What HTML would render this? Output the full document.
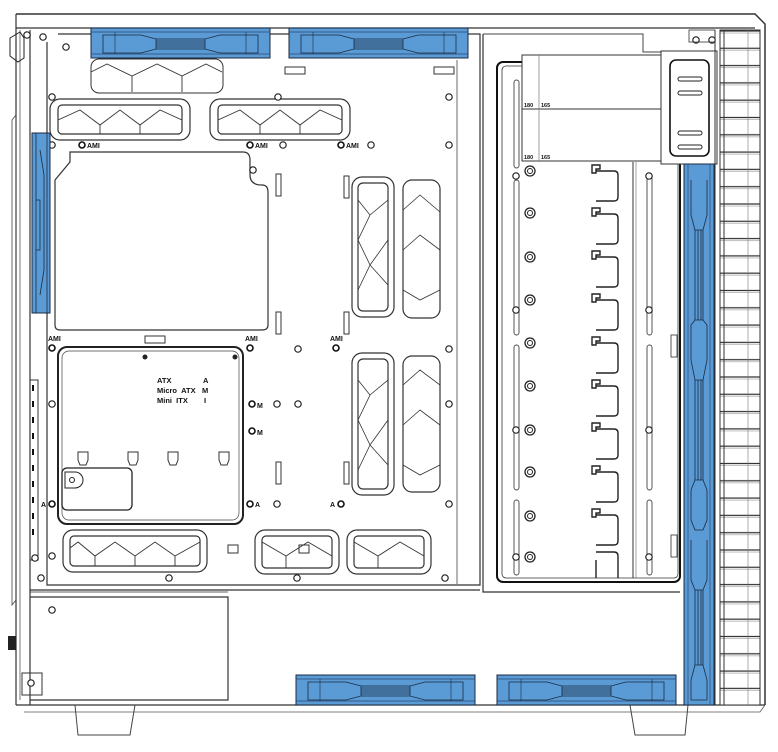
<!DOCTYPE html>
<html><head><meta charset="utf-8"><style>
html,body{margin:0;padding:0;background:#fff;}
svg{display:block;}
text{font-family:"Liberation Sans",sans-serif;font-weight:bold;fill:#111;}
</style></head><body>
<svg width="778" height="752" viewBox="0 0 778 752" xmlns="http://www.w3.org/2000/svg">
<defs>
<pattern id="slat" x="0" y="30" width="40" height="17.3" patternUnits="userSpaceOnUse">
<rect width="40" height="17.3" fill="#fff"/><line x1="0" y1="1" x2="40" y2="1" stroke="#333" stroke-width="1.2"/><line x1="0" y1="3" x2="40" y2="3" stroke="#999" stroke-width="0.6"/>
</pattern>
<g id="hfan">
<rect x="0" y="0" width="179" height="30" fill="#5b9bd5" stroke="#1a2a40" stroke-width="1"/>
<line x1="0" y1="4" x2="179" y2="4" stroke="#2a4a70" stroke-width="0.7"/>
<line x1="0" y1="26" x2="179" y2="26" stroke="#2a4a70" stroke-width="0.7"/>
<path d="M12 7 L50 7 L65 11 L65 21 L50 25 L12 25 Z" fill="#5b9bd5" stroke="#1a2a40" stroke-width="0.8"/>
<path d="M167 7 L129 7 L114 11 L114 21 L129 25 L167 25 Z" fill="#5b9bd5" stroke="#1a2a40" stroke-width="0.8"/>
<path d="M65 11 L114 11 M65 13 L114 13 M65 15 L114 15 M65 17 L114 17 M65 19 L114 19 M65 21 L114 21" stroke="#1a2a40" stroke-width="0.8"/>
<line x1="24" y1="4" x2="24" y2="26" stroke="#1a2a40" stroke-width="0.6"/>
<line x1="155" y1="4" x2="155" y2="26" stroke="#1a2a40" stroke-width="0.6"/>
</g>
<g id="scr"><circle r="3.2" fill="#fff" stroke="#222" stroke-width="1.2"/></g>
<g id="dscr"><circle r="5" fill="#fff" stroke="#222" stroke-width="1.3"/><circle r="2.5" fill="#fff" stroke="#222" stroke-width="1"/></g>
<g id="tray"><path d="M592 0 h8 v4 h-4 v4 h-4 z M596 6 h18 q4 0 4 4 v22 q0 4 -4 4 h-18" fill="none" stroke="#222" stroke-width="1.4"/></g>
</defs>

<!-- outer frame -->
<path d="M16 14 L755 14 L765 24 L765 705" fill="none" stroke="#333" stroke-width="1.5"/>
<line x1="16" y1="28" x2="755" y2="28" stroke="#333" stroke-width="1.2"/>
<line x1="16" y1="14" x2="16" y2="705" stroke="#333" stroke-width="1.2"/>
<line x1="20" y1="30" x2="20" y2="700" stroke="#555" stroke-width="0.8"/>
<line x1="30" y1="30" x2="30" y2="705" stroke="#333" stroke-width="1.2"/>
<line x1="16" y1="705" x2="765" y2="705" stroke="#333" stroke-width="1.2"/>
<path d="M24 712 L760 712 L765 705" fill="none" stroke="#555" stroke-width="0.8"/>
<!-- feet -->
<path d="M75 705 L78 735 L130 735 L135 705" fill="none" stroke="#444" stroke-width="1"/>
<path d="M630 705 L635 735 L685 735 L688 705" fill="none" stroke="#444" stroke-width="1"/>

<!-- left mechanics -->
<path d="M10 38 L20 32 L24 38 L24 58 L18 62 L10 56 Z" fill="none" stroke="#222" stroke-width="1"/>
<use href="#scr" x="27" y="35"/><use href="#scr" x="43" y="37"/>
<path d="M12 120 L16 115 L16 600 L12 605 Z" fill="none" stroke="#444" stroke-width="0.8"/>
<rect x="8" y="636" width="8" height="14" fill="#222"/>
<rect x="30" y="380" width="8" height="180" fill="none" stroke="#333" stroke-width="1"/>
<path d="M33 385 v160" stroke="#111" stroke-width="2" stroke-dasharray="6 10"/>

<!-- main tray -->
<path d="M47 42 L47 585 L480 585 L480 34 L58 34" fill="none" stroke="#333" stroke-width="1.2"/>
<line x1="457" y1="60" x2="457" y2="584" stroke="#444" stroke-width="0.8"/>
<line x1="30" y1="590" x2="480" y2="590" stroke="#333" stroke-width="1.2"/>

<!-- top vent -->
<rect x="91" y="59" width="132" height="34" rx="8" fill="none" stroke="#333" stroke-width="1"/>
<path d="M91 72 L107 64 L132 76 L157 64 L182 76 L206 64 L222 72 M132 76 L132 92 M182 76 L182 92" fill="none" stroke="#333" stroke-width="0.9"/>
<!-- vents row -->
<rect x="50" y="99" width="140" height="41" rx="10" fill="none" stroke="#333" stroke-width="1.2"/>
<rect x="58" y="105" width="124" height="29" rx="4" fill="none" stroke="#333" stroke-width="1.2"/>
<path d="M58 120 L80 110 L100 125 L120 110 L140 125 L160 110 L182 120 M100 125 v9 M140 125 v9" fill="none" stroke="#333" stroke-width="0.9"/>
<rect x="210" y="99" width="140" height="41" rx="10" fill="none" stroke="#333" stroke-width="1.2"/>
<rect x="218" y="105" width="124" height="29" rx="4" fill="none" stroke="#333" stroke-width="1.2"/>
<path d="M218 120 L240 110 L260 125 L280 110 L300 125 L320 110 L342 120 M260 125 v9 M300 125 v9" fill="none" stroke="#333" stroke-width="0.9"/>

<!-- vertical vents -->
<g fill="none" stroke="#333" stroke-width="1.2">
<rect x="352" y="177" width="42" height="140" rx="10"/><rect x="358" y="183" width="30" height="128" rx="5"/>
<rect x="403" y="180" width="37" height="138" rx="9"/>
<rect x="352" y="353" width="42" height="142" rx="10"/><rect x="358" y="359" width="30" height="130" rx="5"/>
<rect x="403" y="356" width="37" height="136" rx="9"/>
</g>
<path d="M358 200 L370 215 L358 240 L370 265 L358 290 M388 200 L370 215 M388 240 L370 265 M388 285 L370 265 M403 210 L420 195 L440 212 M403 250 L420 235 L440 250 M403 290 L420 300 L440 290" fill="none" stroke="#333" stroke-width="0.8"/>
<path d="M358 380 L370 395 L358 420 L370 445 L358 470 M388 380 L370 395 M388 420 L370 445 M388 465 L370 445 M403 385 L420 370 L440 385 M403 425 L420 410 L440 425 M403 465 L420 475 L440 465" fill="none" stroke="#333" stroke-width="0.8"/>

<!-- small slots -->
<g fill="none" stroke="#333" stroke-width="1">
<rect x="276" y="174" width="5" height="22"/><rect x="276" y="312" width="5" height="22"/>
<rect x="344" y="176" width="5" height="22"/><rect x="344" y="312" width="5" height="22"/>
<rect x="276" y="462" width="5" height="22"/><rect x="344" y="462" width="5" height="22"/>
<rect x="285" y="67" width="20" height="7"/><rect x="434" y="67" width="20" height="7"/>
<rect x="145" y="336" width="20" height="7"/>
<rect x="228" y="545" width="10" height="8"/><rect x="299" y="545" width="10" height="8"/>
</g>

<!-- mb cutout upper -->
<path d="M55 180 L70 162 L70 152 L243 152 Q250 152 250 160 L250 175 Q250 185 262 185 Q268 185 268 192 L268 325 Q268 330 262 330 L60 330 Q55 330 55 325 Z" fill="none" stroke="#333" stroke-width="1.2"/>
<!-- mb cutout lower -->
<rect x="58" y="347" width="185" height="177" rx="9" fill="none" stroke="#222" stroke-width="2"/>
<rect x="62" y="351" width="177" height="169" rx="7" fill="none" stroke="#444" stroke-width="0.7"/>
<rect x="62" y="468" width="70" height="42" rx="5" fill="none" stroke="#222" stroke-width="1.3"/>
<path d="M65 472 h10 a8 8 0 0 1 0 16 h-10 z" fill="none" stroke="#222" stroke-width="1"/><circle cx="72" cy="480" r="2.5" fill="none" stroke="#222"/>
<g fill="none" stroke="#333" stroke-width="1">
<path d="M78 452 h10 v8 l-2 5 h-6 l-2 -5 z"/><path d="M128 452 h10 v8 l-2 5 h-6 l-2 -5 z"/><path d="M168 452 h10 v8 l-2 5 h-6 l-2 -5 z"/><path d="M219 452 h10 v8 l-2 5 h-6 l-2 -5 z"/>
</g>
<circle cx="145" cy="357" r="2.5" fill="#222"/><circle cx="235" cy="357" r="2.5" fill="#222"/>

<!-- bottom vents -->
<g fill="none" stroke="#333" stroke-width="1.2">
<rect x="63" y="530" width="144" height="42" rx="10"/><rect x="70" y="536" width="130" height="30" rx="4"/>
<rect x="255" y="530" width="84" height="44" rx="10"/><rect x="262" y="536" width="70" height="32" rx="4"/>
<rect x="347" y="530" width="84" height="44" rx="10"/><rect x="354" y="536" width="70" height="32" rx="4"/>
</g>
<path d="M70 548 L78 542 L95 556 L115 542 L135 556 L155 542 L175 556 L200 542 M95 556 v10 M135 556 v10 M175 556 v10 M262 542 L286 556 L308 542 L332 556 M286 556 v12 M354 542 L378 556 L400 542 L424 556 M378 556 v12" fill="none" stroke="#333" stroke-width="0.9"/>

<!-- screws small -->
<g>
<use href="#scr" x="66" y="47"/><use href="#scr" x="52" y="97"/><use href="#scr" x="278" y="97"/><use href="#scr" x="449" y="97"/>
<use href="#scr" x="52" y="145"/><use href="#scr" x="283" y="145"/><use href="#scr" x="371" y="145"/><use href="#scr" x="449" y="145"/>
<use href="#scr" x="253" y="170"/><use href="#scr" x="298" y="349"/><use href="#scr" x="449" y="349"/>
<use href="#scr" x="52" y="404"/><use href="#scr" x="277" y="404"/><use href="#scr" x="298" y="404"/><use href="#scr" x="449" y="404"/>
<use href="#scr" x="277" y="504"/><use href="#scr" x="449" y="504"/><use href="#scr" x="35" y="558"/>
<use href="#scr" x="41" y="578"/><use href="#scr" x="169" y="578"/><use href="#scr" x="297" y="578"/><use href="#scr" x="445" y="578"/>
<use href="#scr" x="52" y="556"/><use href="#scr" x="52" y="610"/>
</g>
<!-- label screws -->
<g>
<circle cx="82" cy="145" r="3" fill="#fff" stroke="#111" stroke-width="1.6"/>
<circle cx="250" cy="145" r="3" fill="#fff" stroke="#111" stroke-width="1.6"/>
<circle cx="341" cy="145" r="3" fill="#fff" stroke="#111" stroke-width="1.6"/>
<circle cx="52" cy="348" r="3" fill="#fff" stroke="#111" stroke-width="1.6"/>
<circle cx="250" cy="348" r="3" fill="#fff" stroke="#111" stroke-width="1.6"/>
<circle cx="336" cy="348" r="3" fill="#fff" stroke="#111" stroke-width="1.6"/>
<circle cx="252" cy="404" r="3" fill="#fff" stroke="#111" stroke-width="1.6"/>
<circle cx="252" cy="431" r="3" fill="#fff" stroke="#111" stroke-width="1.6"/>
<circle cx="52" cy="504" r="3" fill="#fff" stroke="#111" stroke-width="1.6"/>
<circle cx="250" cy="504" r="3" fill="#fff" stroke="#111" stroke-width="1.6"/>
<circle cx="341" cy="504" r="3" fill="#fff" stroke="#111" stroke-width="1.6"/>
</g>
<g font-size="7">
<text x="87" y="148">AMI</text><text x="255" y="148">AMI</text><text x="346" y="148">AMI</text>
<text x="48" y="341">AMI</text><text x="245" y="341">AMI</text><text x="330" y="341">AMI</text>
<text x="257" y="408">M</text><text x="257" y="435">M</text>
<text x="41" y="507">A</text><text x="255" y="507">A</text><text x="330" y="507">A</text>
</g>
<g font-size="7.5">
<text x="157" y="383">ATX</text><text x="203" y="383">A</text>
<text x="157" y="393">Micro&#160;&#160;ATX</text><text x="202" y="393">M</text>
<text x="157" y="403">Mini&#160;&#160;ITX</text><text x="204" y="403">I</text>
</g>

<!-- PSU -->
<path d="M30 597 L228 597 L228 700 L30 700" fill="none" stroke="#333" stroke-width="1.2"/>
<line x1="30" y1="592" x2="228" y2="592" stroke="#333" stroke-width="0.8"/>
<rect x="22" y="673" width="20" height="22" fill="none" stroke="#333" stroke-width="1"/><use href="#scr" x="31" y="683"/>

<!-- right region -->
<path d="M483 34 L483 592 L680 592" fill="none" stroke="#333" stroke-width="1.2"/>
<path d="M483 34 L643 34 L643 52 L680 52" fill="none" stroke="#444" stroke-width="1"/>
<rect x="497" y="62" width="183" height="520" rx="6" fill="none" stroke="#111" stroke-width="2"/>
<rect x="502" y="66" width="176" height="512" rx="4" fill="none" stroke="#333" stroke-width="0.8"/>
<line x1="633" y1="162" x2="633" y2="578" stroke="#333" stroke-width="1"/>
<line x1="636" y1="162" x2="636" y2="578" stroke="#666" stroke-width="0.6"/>
<g fill="none" stroke="#444" stroke-width="0.9">
<rect x="514" y="80" width="5" height="88" rx="2.5"/><rect x="514" y="180" width="5" height="155" rx="2.5"/><rect x="514" y="345" width="5" height="145" rx="2.5"/><rect x="514" y="500" width="5" height="75" rx="2.5"/>
<rect x="647" y="175" width="5" height="160" rx="2.5"/><rect x="647" y="345" width="5" height="145" rx="2.5"/><rect x="647" y="500" width="5" height="75" rx="2.5"/>
<rect x="671" y="335" width="6" height="22"/><rect x="671" y="535" width="6" height="22"/>
</g>
<g>
<use href="#dscr" x="530" y="171"/><use href="#dscr" x="530" y="213"/><use href="#dscr" x="530" y="257"/><use href="#dscr" x="530" y="300"/><use href="#dscr" x="530" y="343"/><use href="#dscr" x="530" y="386"/><use href="#dscr" x="530" y="430"/><use href="#dscr" x="530" y="472"/><use href="#dscr" x="530" y="516"/><use href="#dscr" x="530" y="557"/>
<use href="#scr" x="516" y="176"/><use href="#scr" x="516" y="310"/><use href="#scr" x="516" y="430"/><use href="#scr" x="516" y="557"/>
<use href="#scr" x="649" y="176"/><use href="#scr" x="649" y="310"/><use href="#scr" x="649" y="430"/><use href="#scr" x="649" y="557"/>
</g>
<g>
<use href="#tray" x="0" y="165"/><use href="#tray" x="0" y="208"/><use href="#tray" x="0" y="251"/><use href="#tray" x="0" y="294"/><use href="#tray" x="0" y="337"/><use href="#tray" x="0" y="380"/><use href="#tray" x="0" y="423"/><use href="#tray" x="0" y="466"/><use href="#tray" x="0" y="509"/>
</g>
<path d="M596 552 h18 q4 0 4 4 v22 M596 560 v18" fill="none" stroke="#222" stroke-width="1.4"/>
<!-- SSD bracket -->
<rect x="522" y="55" width="140" height="106" fill="#fff" stroke="#333" stroke-width="1"/>
<line x1="522" y1="109" x2="662" y2="109" stroke="#333" stroke-width="1"/>
<line x1="539" y1="55" x2="539" y2="161" stroke="#777" stroke-width="0.7"/>
<g font-size="5.5" font-weight="normal"><text x="524" y="107">180</text><text x="541" y="107">165</text><text x="524" y="159">180</text><text x="541" y="159">165</text></g>
<rect x="661" y="51" width="56" height="113" fill="#fff" stroke="#333" stroke-width="1"/>
<rect x="670" y="60" width="39" height="96" rx="6" fill="none" stroke="#111" stroke-width="1.6"/>
<g fill="none" stroke="#222" stroke-width="1"><rect x="678" y="77" width="24" height="4" rx="2"/><rect x="678" y="91" width="24" height="4" rx="2"/><rect x="678" y="131" width="24" height="4" rx="2"/><rect x="678" y="145" width="24" height="4" rx="2"/></g>
<use href="#scr" x="696" y="40"/><use href="#scr" x="712" y="40"/>
<rect x="689" y="30" width="26" height="12" fill="none" stroke="#333" stroke-width="0.8"/>

<!-- grille -->
<rect x="720" y="30" width="40" height="675" fill="url(#slat)" stroke="#333" stroke-width="1"/>
<line x1="724" y1="30" x2="724" y2="705" stroke="#333" stroke-width="1"/>
<line x1="748" y1="30" x2="748" y2="705" stroke="#777" stroke-width="0.6"/>
<line x1="715" y1="30" x2="715" y2="705" stroke="#333" stroke-width="1"/>

<!-- right fans -->
<rect x="684" y="164" width="30" height="541" fill="#5b9bd5" stroke="#1a2a40" stroke-width="1"/>
<line x1="688" y1="164" x2="688" y2="705" stroke="#2a4a70" stroke-width="0.7"/>
<line x1="710" y1="164" x2="710" y2="705" stroke="#2a4a70" stroke-width="0.7"/>
<g fill="none" stroke="#1a2a40" stroke-width="0.8">
<path d="M691 180 L691 215 L695 230 L703 230 L707 215 L707 180"/>
<path d="M695 230 V320 M698 230 V320 M701 230 V320 M703 230 V320"/>
<path d="M691 360 L691 325 L695 320 L703 320 L707 325 L707 360 L703 380 L695 380 Z"/>
<path d="M695 380 V480 M698 380 V480 M701 380 V480 M703 380 V480"/>
<path d="M691 520 L691 490 L695 480 L703 480 L707 490 L707 520 L703 530 L695 530 Z"/>
<path d="M691 540 L691 580 L695 590 L703 590 L707 580 L707 540"/>
<path d="M695 590 V665 M698 590 V665 M701 590 V665 M703 590 V665"/>
<path d="M691 680 L695 665 L703 665 L707 680 L707 700 L691 700 Z"/>
</g>

<!-- left fan -->
<rect x="32" y="133" width="18" height="180" fill="#5b9bd5" stroke="#1a2a40" stroke-width="1"/>
<path d="M36 133 V313 M47 133 V313 M40 150 L44 175 V270 L40 295 M36 200 h4 V250 h-4" fill="none" stroke="#1a2a40" stroke-width="0.8"/>

<!-- top/bottom fans -->
<use href="#hfan" x="91" y="28"/>
<use href="#hfan" x="289" y="28"/>
<use href="#hfan" x="296" y="675"/>
<use href="#hfan" x="497" y="675"/>
</svg>
</body></html>
